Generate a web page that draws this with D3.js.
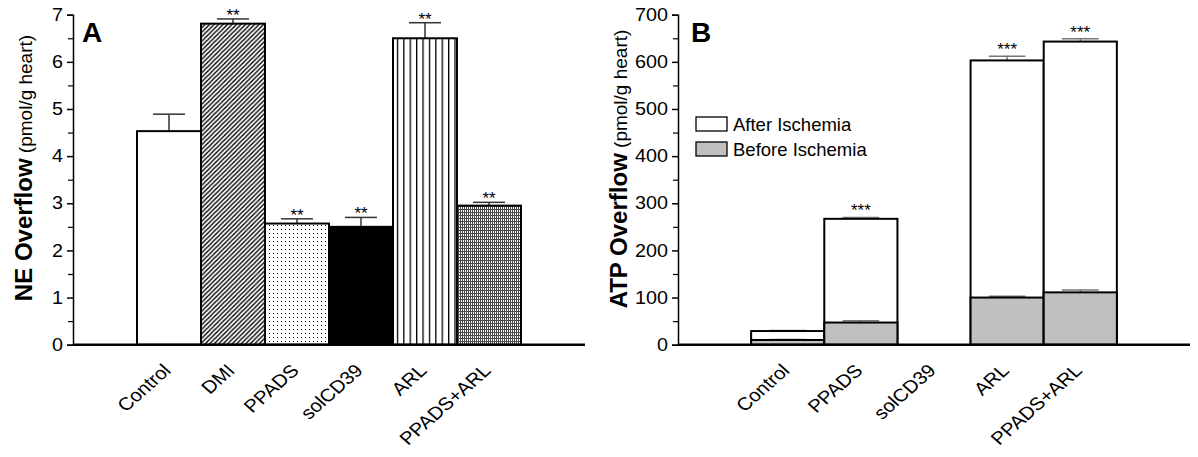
<!DOCTYPE html>
<html>
<head>
<meta charset="utf-8">
<script src="https://cdnjs.cloudflare.com/ajax/libs/d3/7.8.5/d3.min.js"></script>
<style>
  body { margin: 0; background: #fff; }
  svg text { font-family: Arial, "Liberation Sans", sans-serif; fill: #000; }
</style>
</head>
<body>
<div id="chart"></div>
<script>
// Panel A: NE overflow
var catsA = ["Control", "DMI", "PPADS", "solCD39", "ARL", "PPADS+ARL"];
var valsA = [4.53, 6.81, 2.57, 2.50, 6.50, 2.95];
var errA = [0.36, 0.10, 0.10, 0.20, 0.33, 0.07];
var starsA = ["", "**", "**", "**", "**", "**"];
var fillsA = ["white", "hatch", "dots", "black", "vlines", "fine"];
var ticksA = [0, 1, 2, 3, 4, 5, 6, 7];

// Panel B: ATP overflow (stacked before / after ischemia)
var catsB = ["Control", "PPADS", "solCD39", "ARL", "PPADS+ARL"];
var beforeB = [10, 47, null, 100, 111];
var totalB = [29, 267, null, 603, 643];
var errBeforeB = [1, 4, 0, 3, 5];
var errTotalB = [1, 3, 0, 9, 6];
var starsB = ["", "***", "", "***", "***"];
var ticksB = [0, 100, 200, 300, 400, 500, 600, 700];
var legendB = ["After Ischemia", "Before Ischemia"];

var W = 1198, H = 457;
var SX = 1.13; // the source figure's text is a little wider than tall
var svg = d3.select("#chart").append("svg")
    .attr("width", W).attr("height", H);

// patterns
var defs = svg.append("defs");
var p1 = defs.append("pattern").attr("id", "hatch").attr("patternUnits", "userSpaceOnUse")
    .attr("width", 4.5).attr("height", 4.5);
p1.append("rect").attr("width", 4.5).attr("height", 4.5).attr("fill", "white");
p1.append("path").attr("d", "M-1,1 L1,-1 M0,4.5 L4.5,0 M3.5,5.5 L5.5,3.5")
    .attr("stroke", "black").attr("stroke-width", 1.4);

var p2 = defs.append("pattern").attr("id", "dots").attr("patternUnits", "userSpaceOnUse")
    .attr("width", 4).attr("height", 4);
p2.append("rect").attr("width", 4).attr("height", 4).attr("fill", "white");
p2.append("rect").attr("x", 1).attr("y", 1).attr("width", 1).attr("height", 1).attr("fill", "black");

var p3 = defs.append("pattern").attr("id", "vlines").attr("patternUnits", "userSpaceOnUse")
    .attr("width", 6.4).attr("height", 4);
p3.append("rect").attr("width", 6.4).attr("height", 4).attr("fill", "white");
p3.append("rect").attr("x", 0).attr("y", 0).attr("width", 1.3).attr("height", 4).attr("fill", "black");

// fine grid: thin grey lines with small white holes
var p4 = defs.append("pattern").attr("id", "fine").attr("patternUnits", "userSpaceOnUse")
    .attr("width", 2).attr("height", 3);
p4.append("rect").attr("width", 2).attr("height", 3).attr("fill", "#4a4a4a");
p4.append("rect").attr("x", 1).attr("y", 0).attr("width", 1).attr("height", 2).attr("fill", "white");

function fillOf(f) {
    if (f === "white" || f === "black") return f;
    return "url(#" + f + ")";
}

function drawYAxis(g, y, ticks, minor) {
    g.append("g")
        .call(d3.axisLeft(y).tickValues(minor).tickSize(5).tickFormat(""))
        .call(function (a) { a.select(".domain").remove(); })
        .selectAll("line").attr("stroke-width", 1.2);
    var ax = g.append("g")
        .call(d3.axisLeft(y).tickValues(ticks).tickSize(6).tickPadding(4).tickFormat(d3.format("d")));
    ax.select(".domain").attr("stroke-width", 1.5);
    ax.selectAll("line").attr("stroke-width", 1.5);
    ax.selectAll("text").style("font-size", "17.5px")
        .attr("x", -10 / SX)
        .attr("transform", "scale(" + SX + ",1)");
}

function drawLabels(g, x, cats, y0) {
    g.selectAll(".cat").data(cats).enter().append("text")
        .attr("text-anchor", "end")
        .style("font-size", "18px")
        .attr("transform", function (d) {
            return "translate(" + (x(d) + x.bandwidth() / 2 + 3) + "," + (y0 + 27) + ") scale(" + SX + ",1) rotate(-45)";
        })
        .text(function (d) { return d; });
}

function errBar(g, cx, ytop, yval, half, color) {
    g.append("line").attr("x1", cx).attr("x2", cx).attr("y1", yval).attr("y2", ytop)
        .attr("stroke", color).attr("stroke-width", 1.5);
    g.append("line").attr("x1", cx - half).attr("x2", cx + half).attr("y1", ytop).attr("y2", ytop)
        .attr("stroke", color).attr("stroke-width", 1.5);
}

// ---------- Panel A ----------
var gA = svg.append("g");
var xA = d3.scaleBand().domain(["_l"].concat(catsA, ["_r"])).range([73, 585]).padding(0);
var yA = d3.scaleLinear().domain([0, 7]).range([344.7, 14.7]);

var axA = gA.append("g").attr("transform", "translate(73,0)");
drawYAxis(axA, yA, ticksA, d3.range(0.5, 7, 1));

catsA.forEach(function (c, i) {
    var x0 = xA(c), bw = xA.bandwidth();
    if (errA[i]) errBar(gA, x0 + bw / 2, yA(valsA[i] + errA[i]), yA(valsA[i]), bw / 4, "#333");
    gA.append("rect")
        .attr("x", x0).attr("y", yA(valsA[i]))
        .attr("width", bw).attr("height", yA(0) - yA(valsA[i]))
        .attr("fill", fillOf(fillsA[i]))
        .attr("stroke", "black").attr("stroke-width", 2);
    if (starsA[i]) gA.append("text")
        .attr("x", x0 + bw / 2).attr("y", yA(valsA[i] + errA[i]) + 2)
        .attr("text-anchor", "middle").style("font-size", "17px")
        .text(starsA[i]);
});

gA.append("line").attr("x1", 73).attr("x2", 585).attr("y1", yA(0)).attr("y2", yA(0))
    .attr("stroke", "black").attr("stroke-width", 2.5);
drawLabels(gA, xA, catsA, yA(0));

gA.append("text").attr("x", 82).attr("y", 42)
    .style("font-size", "28px").style("font-weight", "bold").text("A");

var labA = gA.append("text")
    .attr("transform", "translate(32,168) rotate(-90)")
    .attr("text-anchor", "middle");
labA.append("tspan").style("font-size", "24px").style("font-weight", "bold").text("NE Overflow");
labA.append("tspan").style("font-size", "19px").text(" (pmol/g heart)");

// ---------- Panel B ----------
var gB = svg.append("g");
var xB = d3.scaleBand().domain(["_l"].concat(catsB, ["_r"])).range([678, 1190]).padding(0);
var yB = d3.scaleLinear().domain([0, 700]).range([344.7, 14.7]);

var axB = gB.append("g").attr("transform", "translate(678,0)");
drawYAxis(axB, yB, ticksB, d3.range(50, 700, 100));

catsB.forEach(function (c, i) {
    if (totalB[i] == null) return;
    var x0 = xB(c), bw = xB.bandwidth(), cx = x0 + bw / 2;
    errBar(gB, cx, yB(totalB[i] + errTotalB[i]), yB(totalB[i]), bw / 4, "#777");
    gB.append("rect")
        .attr("x", x0).attr("y", yB(totalB[i]))
        .attr("width", bw).attr("height", yB(0) - yB(totalB[i]))
        .attr("fill", "white").attr("stroke", "black").attr("stroke-width", 2);
    errBar(gB, cx, yB(beforeB[i] + errBeforeB[i]), yB(beforeB[i]), bw / 4, "#777");
    gB.append("rect")
        .attr("x", x0).attr("y", yB(beforeB[i]))
        .attr("width", bw).attr("height", yB(0) - yB(beforeB[i]))
        .attr("fill", "#c0c0c0").attr("stroke", "black").attr("stroke-width", 2);
    if (starsB[i]) gB.append("text")
        .attr("x", cx).attr("y", yB(totalB[i] + errTotalB[i]) - 1)
        .attr("text-anchor", "middle").style("font-size", "17px")
        .text(starsB[i]);
});

gB.append("line").attr("x1", 678).attr("x2", 1190).attr("y1", yB(0)).attr("y2", yB(0))
    .attr("stroke", "black").attr("stroke-width", 2.5);
drawLabels(gB, xB, catsB, yB(0));

gB.append("text").attr("x", 691).attr("y", 42)
    .style("font-size", "28px").style("font-weight", "bold").text("B");

var labB = gB.append("text")
    .attr("transform", "translate(627,169) rotate(-90)")
    .attr("text-anchor", "middle");
labB.append("tspan").style("font-size", "24px").style("font-weight", "bold").text("ATP Overflow");
labB.append("tspan").style("font-size", "19px").text(" (pmol/g heart)");

// legend
var legFills = ["white", "#c0c0c0"];
legendB.forEach(function (t, i) {
    var ly = 117 + i * 25;
    gB.append("rect").attr("x", 696).attr("y", ly).attr("width", 31).attr("height", 14)
        .attr("fill", legFills[i]).attr("stroke", "black").attr("stroke-width", 1.3);
    gB.append("text").attr("x", 733).attr("y", ly + 14)
        .style("font-size", "18.5px").text(t);
});
</script>
</body>
</html>
